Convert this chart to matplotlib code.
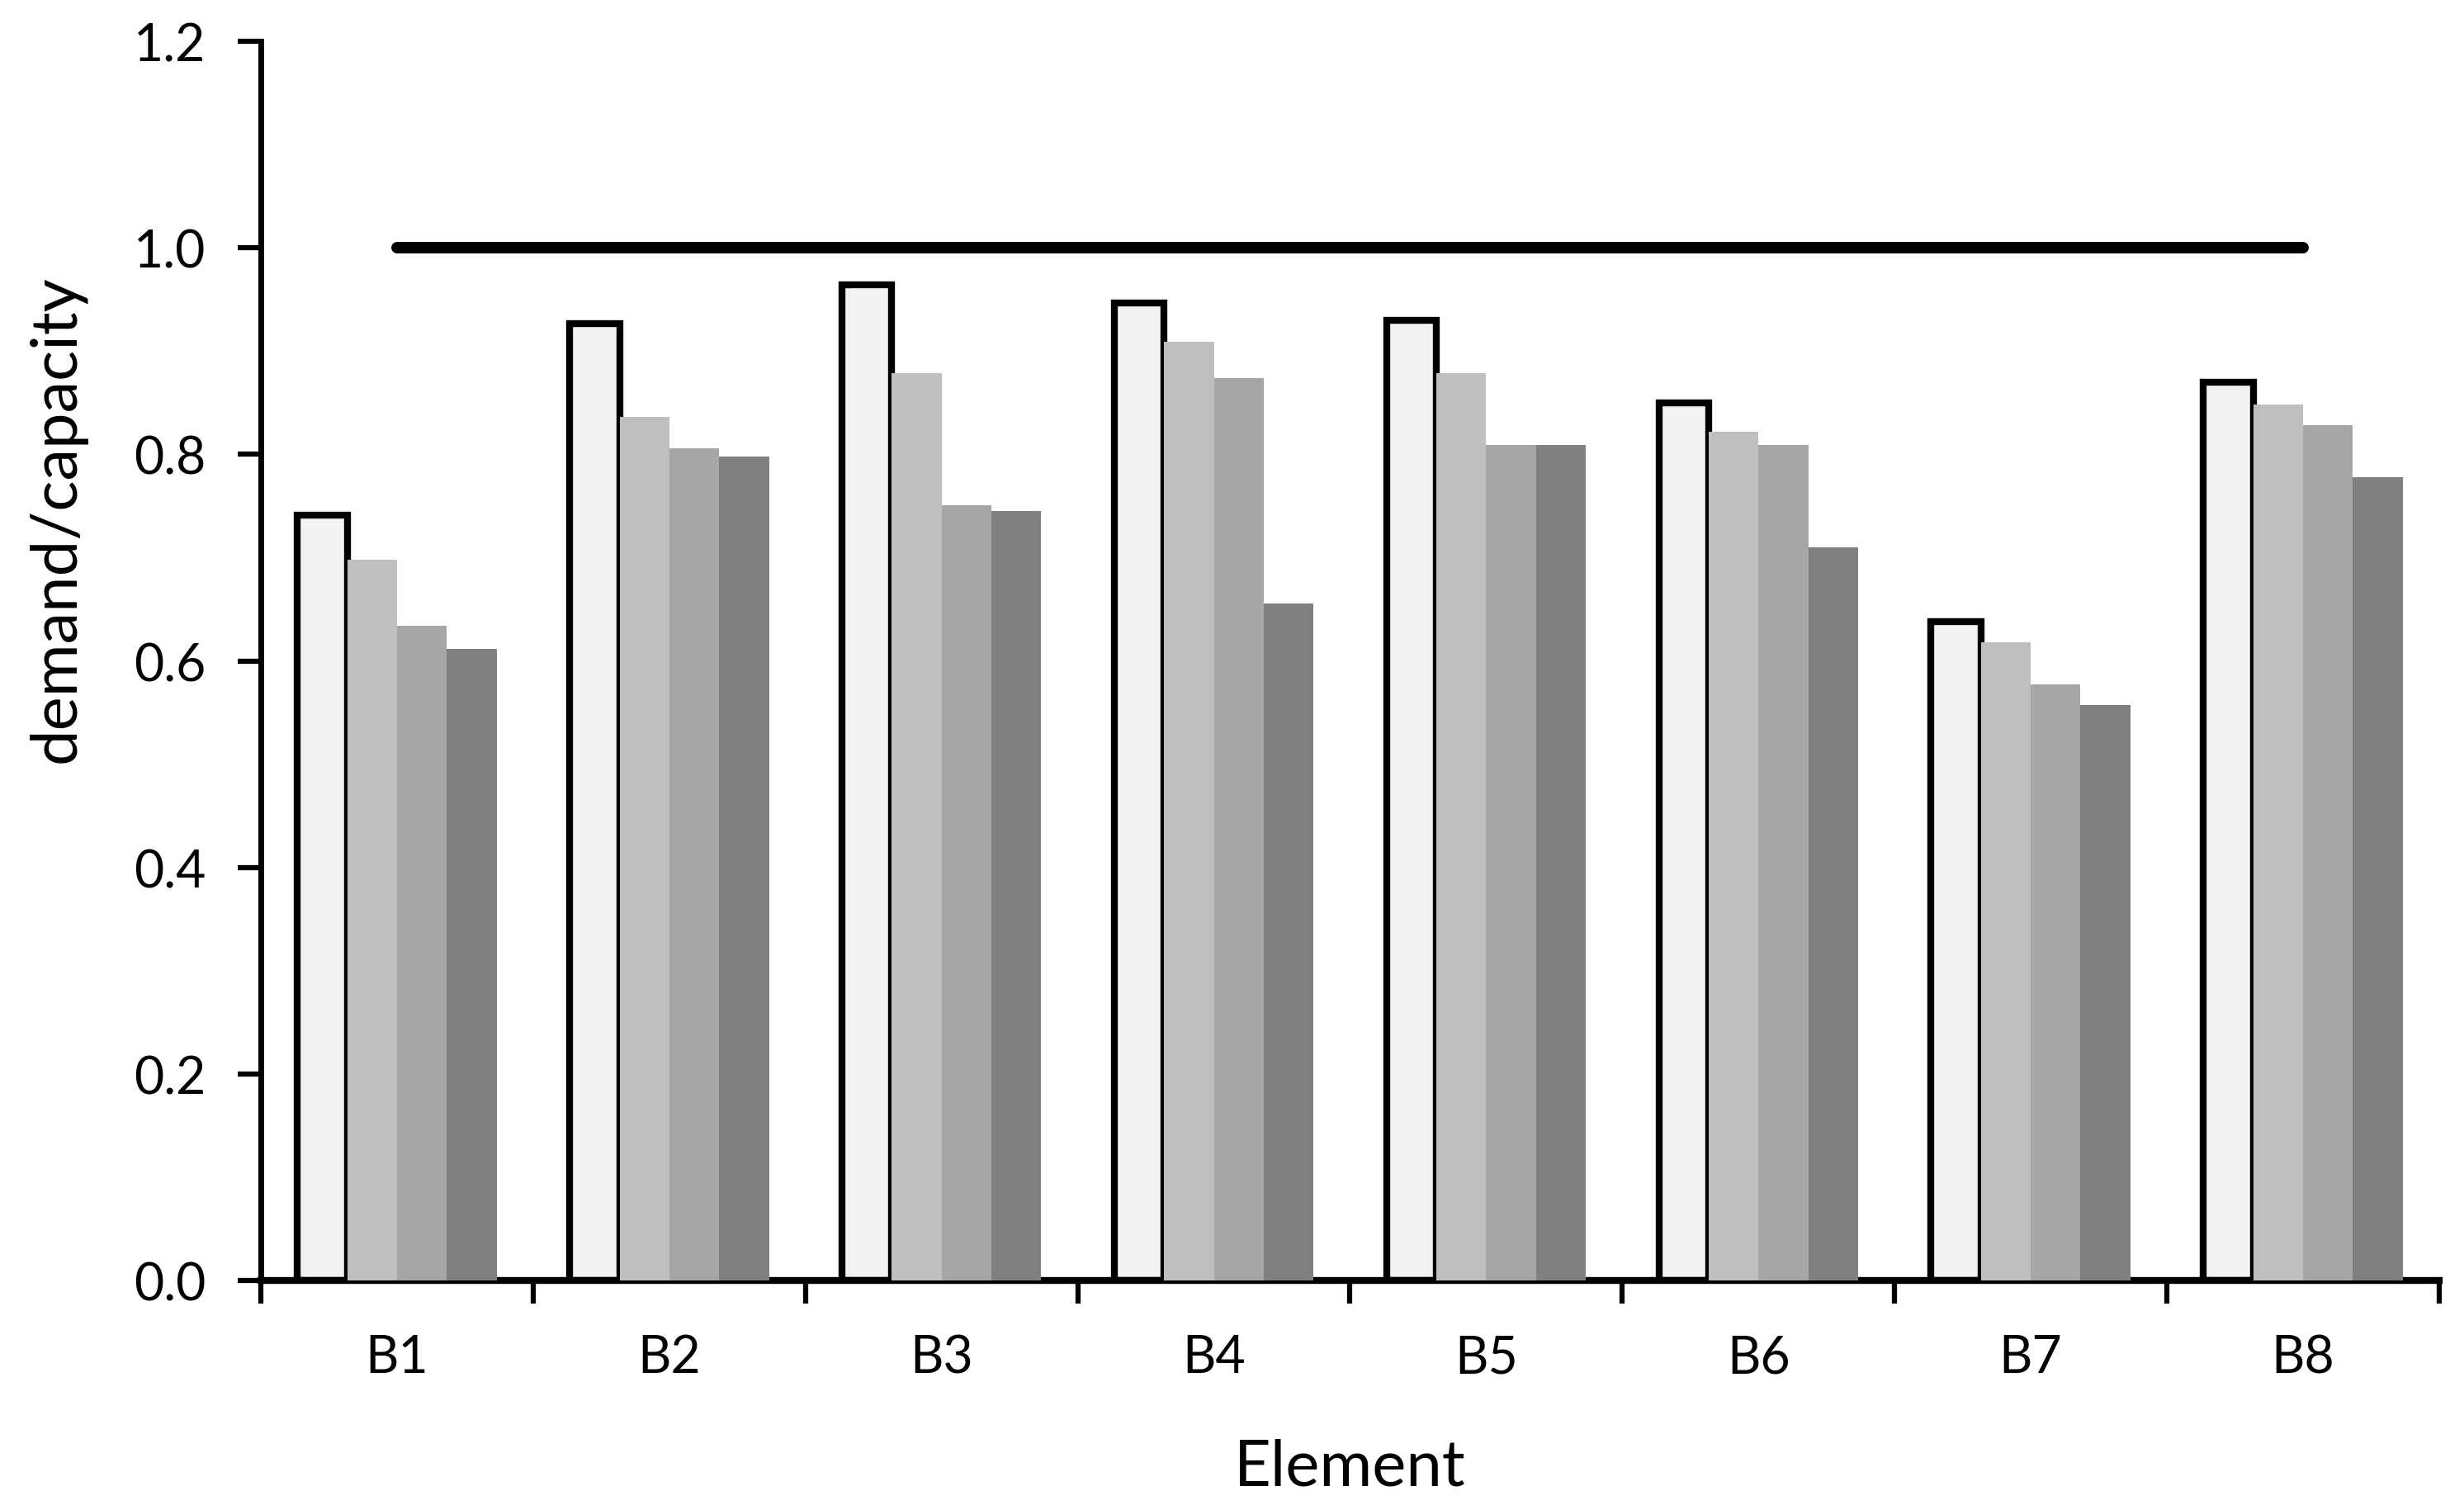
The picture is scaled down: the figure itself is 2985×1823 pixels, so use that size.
import matplotlib
matplotlib.use("Agg")
import matplotlib.pyplot as plt
import numpy as np

categories = ["B1", "B2", "B3", "B4", "B5", "B6", "B7", "B8"]
series1 = [0.741, 0.927, 0.964, 0.947, 0.930, 0.850, 0.638, 0.870]
series2 = [0.698, 0.836, 0.879, 0.909, 0.879, 0.822, 0.618, 0.848]
series3 = [0.634, 0.806, 0.751, 0.874, 0.809, 0.809, 0.577, 0.828]
series4 = [0.612, 0.798, 0.745, 0.656, 0.809, 0.710, 0.557, 0.778]
limit = [1.0] * 8
yticks = [0.0, 0.2, 0.4, 0.6, 0.8, 1.0, 1.2]

plt.rcParams['font.family'] = ['Lato', 'DejaVu Sans']

fig = plt.figure(figsize=(29.85, 18.24), dpi=100)
ax = fig.add_axes([0.1059, 0.149, 0.884, 0.823])

x = np.arange(len(categories))
w = 0.183
colors = ["#F2F2F2", "#BFBFBF", "#A6A6A6", "#808080"]
allser = [series1, series2, series3, series4]
for i, (s, c) in enumerate(zip(allser, colors)):
    off = (i - 1.5) * w
    if i == 0:
        ax.bar(x + off, s, width=w, color=c, edgecolor="black", linewidth=6, zorder=2)
    else:
        ax.bar(x + off, s, width=w, color=c, edgecolor="none", linewidth=0, zorder=3)

ax.plot(x, limit, color="black", linewidth=10, solid_capstyle="round", zorder=4)

ax.set_xlim(-0.5, 7.5)
ax.set_ylim(0, 1.2)
ax.set_yticks(yticks)
ax.set_yticklabels([f"{v:.1f}" for v in yticks])

ax.set_xticks(x)
ax.set_xticklabels(categories)
ax.set_xticks(np.arange(-0.5, 8.0, 1.0), minor=True)
ax.tick_params(axis="x", which="major", length=0, pad=46, labelsize=45)
ax.tick_params(axis="x", which="minor", length=20, width=4.5, direction="out")
ax.tick_params(axis="y", which="major", length=20, width=4.5, direction="out", pad=28, labelsize=45)

for side in ["top", "right"]:
    ax.spines[side].set_visible(False)
ax.spines["left"].set_linewidth(5)
ax.spines["bottom"].set_linewidth(6)

ax.set_xlabel("Element", fontsize=56)
ax.set_ylabel("demand/capacity", fontsize=56)
ax.yaxis.set_label_coords(-0.080, 0.615)
ax.xaxis.set_label_coords(0.5, -0.127)

fig.savefig("out.png", dpi=100)
